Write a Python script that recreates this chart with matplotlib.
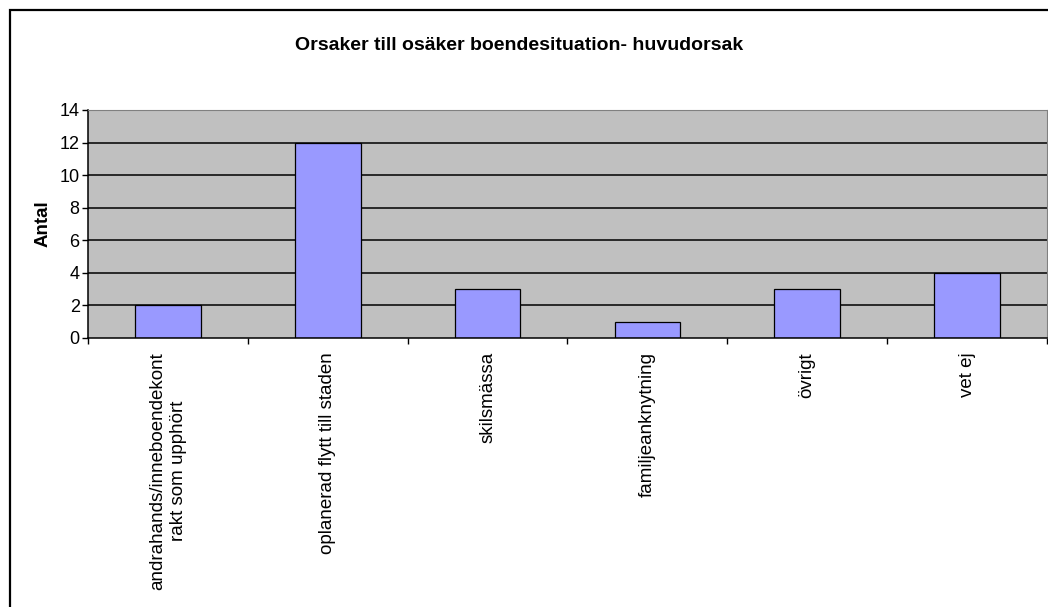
import matplotlib.pyplot as plt
from matplotlib.patches import Rectangle

plt.rcParams['font.family'] = ['Liberation Sans', 'DejaVu Sans']

# data
categories = ['andrahands/inneboendekont\nrakt som upphört', 'oplanerad flytt till staden',
              'skilsmässa', 'familjeanknytning', 'övrigt', 'vet ej']
counts = [2, 12, 3, 1, 3, 4]
y_ticks = [0, 2, 4, 6, 8, 10, 12, 14]

fig = plt.figure(figsize=(10.48, 6.07), dpi=100)
ax = fig.add_axes([88 / 1048, 1 - 338 / 607, (1047 - 88) / 1048, (338 - 110) / 607])
ax.set_facecolor('#C0C0C0')

# horizontal gridlines (black, like the old Excel chart)
for y in y_ticks[1:-1]:
    ax.axhline(y, color='black', linewidth=1.1, zorder=1)

x = list(range(len(categories)))
ax.bar(x, counts, width=0.41, color='#9999FF', edgecolor='black', linewidth=0.9, zorder=2)

ax.set_xlim(-0.5, len(categories) - 0.5)
ax.set_ylim(0, 14)
ax.set_yticks(y_ticks)
ax.tick_params(axis='y', length=4, width=1, labelsize=13, pad=2)

ax.set_xticks(x)
ax.set_xticklabels(categories, rotation=90, fontsize=13.5, va='top', ha='center',
                   multialignment='center', linespacing=1.25)
ax.tick_params(axis='x', which='major', length=0, pad=10)
ax.set_xticks([i + 0.5 for i in range(-1, len(categories))], minor=True)
ax.tick_params(axis='x', which='minor', length=4, width=1)

for side in ['top', 'right']:
    ax.spines[side].set_color('#808080')
for side in ['left', 'bottom']:
    ax.spines[side].set_color('black')
    ax.spines[side].set_linewidth(1.1)

ax.set_ylabel('Antal', fontsize=13.5, fontweight='bold', labelpad=6)
fig.text(519 / 1048, 1 - 45 / 607, 'Orsaker till osäker boendesituation- huvudorsak',
         ha='center', va='center', fontsize=14, fontweight='bold')

# outer chart border (right/bottom edges are cut off in the original)
fig.patches.append(Rectangle((10 / 1048, -0.01), 1.05, 1 - 10 / 607 + 0.01,
                             transform=fig.transFigure, fill=False, edgecolor='black',
                             linewidth=1.6, zorder=0))

fig.savefig('out.png', dpi=100)
